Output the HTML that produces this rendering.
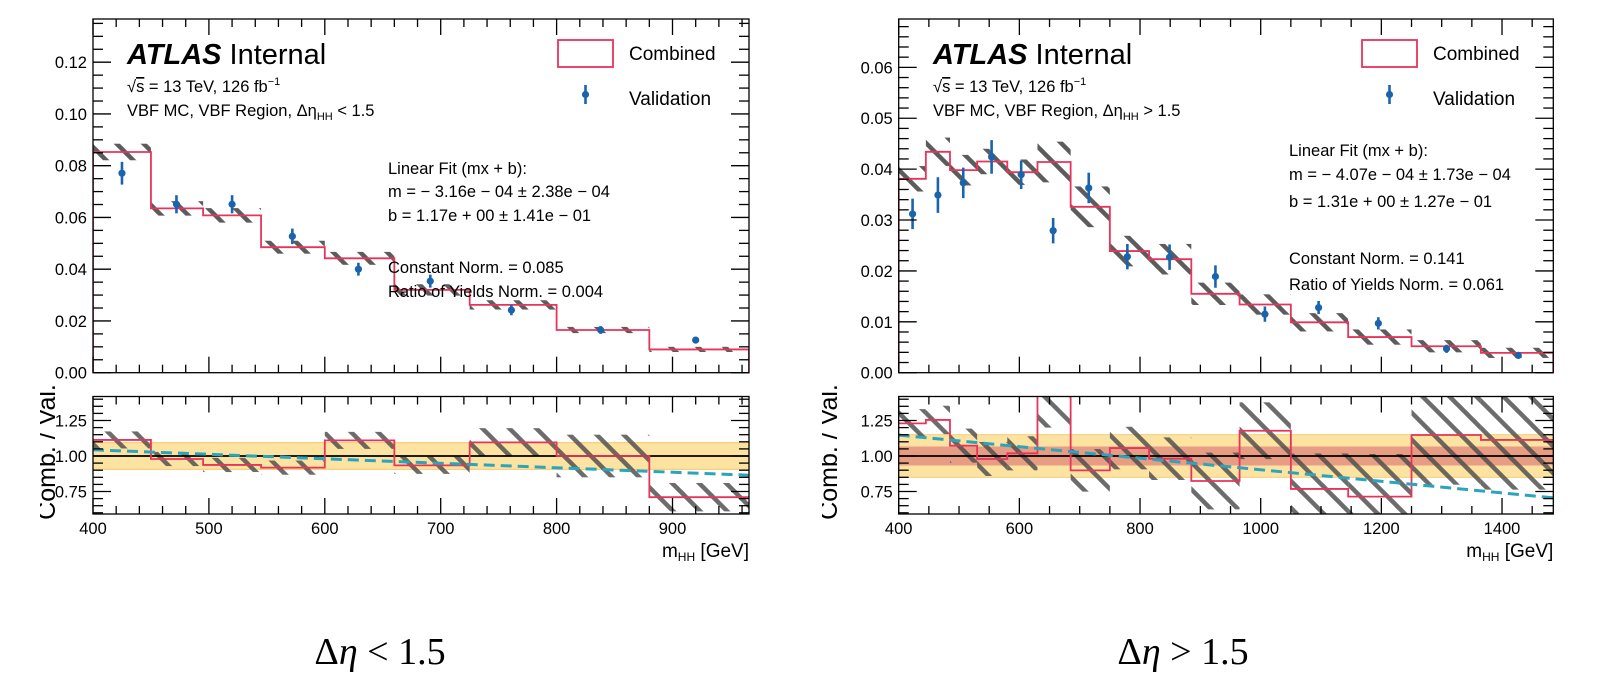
<!DOCTYPE html>
<html><head><meta charset="utf-8"><style>
html,body{margin:0;padding:0;background:#fff;}
svg{display:block;font-family:"Liberation Sans",sans-serif;}
</style></head><body>
<svg id="fig" width="1599" height="696" viewBox="0 0 1599 696" xmlns="http://www.w3.org/2000/svg">
<defs>
<pattern id="hatch" patternUnits="userSpaceOnUse" width="27" height="27">
<path d="M-2,-2 L29,29 M-29,-2 L2,29 M25,-2 L56,29" stroke="#4a4a4a" stroke-width="4.5" opacity="0.9"/>
</pattern>
</defs>
<g id="root"></g>
<text x="380" y="664" text-anchor="middle" font-family="'Liberation Serif',serif" font-size="38">Δ<tspan font-style="italic">η</tspan> &lt; 1.5</text>
<text x="1183" y="664" text-anchor="middle" font-family="'Liberation Serif',serif" font-size="38">Δ<tspan font-style="italic">η</tspan> &gt; 1.5</text>
</svg>
<script>
// ---- left chart data (Δη < 1.5) ----
const leftEdges = [400,450,495,545,600,660,725,800,880,966];
const leftCombined = [0.0853,0.0635,0.0608,0.0485,0.0442,0.0320,0.0262,0.0165,0.0090];
const leftCombErr = [0.0032,0.0028,0.0028,0.0025,0.0025,0.0022,0.0018,0.0012,0.0010];
const leftValX = [425,472,520,572,629,691,761,838,920];
const leftValY = [0.0771,0.0651,0.0651,0.0527,0.0400,0.0354,0.0242,0.0165,0.0126];
const leftValErr = [0.0044,0.0035,0.0035,0.0030,0.0025,0.0025,0.0020,0.0015,0.0012];
const leftRatio = [1.113,0.979,0.937,0.918,1.11,0.934,1.096,1.0,0.71];
const leftRatioErr = [0.06,0.05,0.05,0.05,0.06,0.06,0.1,0.15,0.1];
const leftFitM = -3.16e-4, leftFitB = 1.17;
const leftYTicks = [0,0.02,0.04,0.06,0.08,0.10,0.12];
const leftYTickLabels = ["0.00","0.02","0.04","0.06","0.08","0.10","0.12"];
const leftXTicks = [400,500,600,700,800,900];
// ---- right chart data (Δη > 1.5) ----
const rightEdges = [400,445,485,530,580,630,685,750,815,885,965,1050,1145,1250,1365,1485];
const rightCombined = [0.0381,0.0434,0.0398,0.0415,0.0394,0.0414,0.0326,0.0239,0.0223,0.0155,0.0134,0.0099,0.0070,0.0052,0.0039];
const rightCombErr = [0.0025,0.0028,0.003,0.0025,0.0025,0.004,0.004,0.003,0.003,0.0022,0.002,0.0018,0.0015,0.0012,0.001];
const rightValX = [423,465,507,554,603,656,715,779,849,925,1007,1096,1195,1308,1427];
const rightValY = [0.0312,0.0349,0.0373,0.0424,0.0389,0.0279,0.0363,0.0228,0.0227,0.0189,0.0115,0.0128,0.0097,0.0047,0.0034];
const rightValErr = [0.003,0.0035,0.003,0.0033,0.0028,0.0025,0.003,0.0025,0.0025,0.0022,0.0015,0.0013,0.0012,0.0008,0.0006];
const rightRatio = [1.23,1.254,1.073,0.979,1.019,1.5,0.899,1.056,0.981,0.824,1.178,0.768,0.714,1.148,1.113];
const rightRatioErr = [0.1,0.1,0.12,0.12,0.12,0.3,0.15,0.15,0.15,0.2,0.2,0.25,0.3,0.35,0.35];
const rightFitM = -4.07e-4, rightFitB = 1.31;
const rightYTicks = [0,0.01,0.02,0.03,0.04,0.05,0.06];
const rightYTickLabels = ["0.00","0.01","0.02","0.03","0.04","0.05","0.06"];
const rightXTicks = [400,600,800,1000,1200,1400];

const NS = "http://www.w3.org/2000/svg";
const root = document.getElementById('root');
function mk(tag, attrs, parent, text){
  const e = document.createElementNS(NS, tag);
  for (const k in attrs) e.setAttribute(k, attrs[k]);
  if (text !== undefined) e.textContent = text;
  (parent||root).appendChild(e);
  return e;
}

function drawPanel(c){
  const g = mk('g', {});
  
  
  const X = v => c.x0 + (v - c.xmin) / (c.xmax - c.xmin) * (c.x1 - c.x0);
  const Y = v => c.mBot - v / c.ymax * (c.mBot - c.mTop);
  const R = v => c.r1 - (v - 1) * c.rScale;
  const n = c.edges.length - 1;
  const cp = mk('clipPath', {id: c.id + 'mclip'}, g);
  mk('rect', {x:c.x0, y:c.mTop, width:c.x1-c.x0, height:c.mBot-c.mTop}, cp);
  const cr = mk('clipPath', {id: c.id + 'rclip'}, g);
  mk('rect', {x:c.x0, y:c.rTop, width:c.x1-c.x0, height:c.rBot-c.rTop}, cr);

  const mh = mk('g', {'clip-path':'url(#'+c.id+'mclip)'}, g);
  for (let i=0;i<n;i++){
    const r = mk('rect', {x:X(c.edges[i]), y:Y(c.comb[i]+c.combErr[i]), width:X(c.edges[i+1])-X(c.edges[i]), height:Y(c.comb[i]-c.combErr[i])-Y(c.comb[i]+c.combErr[i]), fill:'url(#hatch)'}, mh);
    
    
  }
  let d = '';
  for (let i=0;i<n;i++){
    d += (i===0 ? 'M'+X(c.edges[0])+','+c.mBot+' L' : ' L') + X(c.edges[i])+','+Y(c.comb[i]) + ' L'+X(c.edges[i+1])+','+Y(c.comb[i]);
  }
  d += ' L'+X(c.edges[n])+','+c.mBot;
  const st = mk('path', {d:d, fill:'none', stroke:'#e8345a', 'stroke-width':1.8}, mh);
  
  
  for (let i=0;i<c.valX.length;i++){
    const pg = mk('g', {}, mh);
    
    
    mk('line', {x1:X(c.valX[i]), x2:X(c.valX[i]), y1:Y(c.valY[i]-c.valErr[i]), y2:Y(c.valY[i]+c.valErr[i]), stroke:'#1a64ad', 'stroke-width':2.6}, pg);
    mk('circle', {cx:X(c.valX[i]), cy:Y(c.valY[i]), r:3.6, fill:'#1a64ad'}, pg);
  }

  const rg = mk('g', {'clip-path':'url(#'+c.id+'rclip)'}, g);
  const yb = mk('rect', {x:c.x0, y:R(1+c.yBand), width:c.x1-c.x0, height:2*c.yBand*c.rScale, fill:'#fde3a2'}, rg);
  
  
  mk('line', {x1:c.x0, x2:c.x1, y1:R(1+c.yBand), y2:R(1+c.yBand), stroke:'#f7cf7e', 'stroke-width':1.2}, rg);
  mk('line', {x1:c.x0, x2:c.x1, y1:R(1-c.yBand), y2:R(1-c.yBand), stroke:'#f7cf7e', 'stroke-width':1.2}, rg);
  if (c.rBand){
    const rb = mk('rect', {x:c.x0, y:R(1+c.rBand), width:c.x1-c.x0, height:2*c.rBand*c.rScale, fill:'#e79c84'}, rg);
    
    
  }
  for (let i=0;i<n;i++){
    const r = mk('rect', {x:X(c.edges[i]), y:R(c.ratio[i]+c.ratioErr[i]), width:X(c.edges[i+1])-X(c.edges[i]), height:2*c.ratioErr[i]*c.rScale, fill:'url(#hatch)', opacity:0.9}, rg);
    
    
  }
  mk('line', {x1:c.x0, x2:c.x1, y1:R(1), y2:R(1), stroke:'#000', 'stroke-width':1.8}, rg);
  let rd = '';
  for (let i=0;i<n;i++){
    rd += (i===0 ? 'M' : ' L') + X(c.edges[i])+','+R(c.ratio[i]) + ' L'+X(c.edges[i+1])+','+R(c.ratio[i]);
  }
  const rs = mk('path', {d:rd, fill:'none', stroke:'#e8345a', 'stroke-width':1.8}, rg);
  
  
  const fl = mk('line', {x1:c.x0, x2:c.x1, y1:R(c.fitM*c.xmin+c.fitB), y2:R(c.fitM*c.xmax+c.fitB), stroke:'#2ca4bb', 'stroke-width':3, 'stroke-dasharray':'11,6'}, rg);
  
  

  const ax = mk('g', {stroke:'#000', 'stroke-width':1.3, fill:'none'}, g);
  mk('rect', {x:c.x0, y:c.mTop, width:c.x1-c.x0, height:c.mBot-c.mTop}, ax);
  mk('rect', {x:c.x0, y:c.rTop, width:c.x1-c.x0, height:c.rBot-c.rTop}, ax);
  for (let v=c.xmin; v<=c.xmax+0.01; v+=c.xMinor){
    const isMaj = Math.abs((v - c.xmin) % c.xMajor) < 1e-6 || Math.abs(((v - c.xmin) % c.xMajor) - c.xMajor) < 1e-6;
    const L = isMaj ? 16 : 8;
    const xx = X(v);
    [[c.mTop, 1],[c.mBot, -1],[c.rTop, 1],[c.rBot, -1]].forEach(([yy,s]) => mk('line', {x1:xx,x2:xx,y1:yy,y2:yy+s*L}, ax));
  }
  for (let k=0; k*c.yMinor <= c.ymax+1e-9; k++){
    const v = k*c.yMinor;
    const isMaj = k % c.yMajEvery === 0;
    const L = isMaj ? 18 : 10;
    const yy = Y(v);
    mk('line', {x1:c.x0,x2:c.x0+L,y1:yy,y2:yy}, ax);
    mk('line', {x1:c.x1,x2:c.x1-L,y1:yy,y2:yy}, ax);
  }
  for (let v=0.6; v<=1.43; v+=0.05){
    const vr = Math.round(v*100)/100;
    const isMaj = Math.abs(vr*4 - Math.round(vr*4)) < 1e-6;
    const L = isMaj ? 18 : 10;
    const yy = R(vr);
    if (yy < c.rTop || yy > c.rBot) continue;
    mk('line', {x1:c.x0,x2:c.x0+L,y1:yy,y2:yy}, ax);
    mk('line', {x1:c.x1,x2:c.x1-L,y1:yy,y2:yy}, ax);
  }
  c.yTicks.forEach((v,i) => {
    const t = mk('text', {x:c.x0-6, y:Y(v)+6, 'text-anchor':'end', 'font-size':16.5}, g, c.yTickLabels[i]);
    
    
  });
  [0.75,1.00,1.25].forEach(v => {
    const t = mk('text', {x:c.x0-6, y:R(v)+6, 'text-anchor':'end', 'font-size':16.5}, g, v.toFixed(2));
    
    
  });
  c.xTicks.forEach(v => {
    const t = mk('text', {x:X(v), y:c.rBot+20, 'text-anchor':'middle', 'font-size':16.5}, g, String(v));
    
    
  });
  const xt = mk('text', {x:c.x1, y:c.rBot+43, 'text-anchor':'end', 'font-size':19}, g);
  
  
  xt.innerHTML = 'm<tspan font-size="12" dy="4">HH</tspan><tspan dy="-4"> [GeV]</tspan>';
  const yc = mk('clipPath', {id: c.id + 'yclip'}, g);
  mk('rect', {x:c.yClipX, y:384, width:40, height:140}, yc);
  const ytg = mk('g', {'clip-path':'url(#'+c.id+'yclip)'}, g);
  const yt = mk('text', {x:0, y:0, 'text-anchor':'middle', 'font-size':25, transform:'translate('+(c.yClipX+15)+',452) rotate(-90)'}, ytg, 'Comb. / Val.');
  
  

  const a = mk('text', {x:c.atlasX, y:64, 'font-size':29}, g);
  
  
  a.innerHTML = '<tspan font-weight="bold" font-style="italic">ATLAS</tspan><tspan dx="8">Internal</tspan>';
  const s1 = mk('text', {x:c.atlasX, y:92, 'font-size':16.5}, g);
  
  
  s1.innerHTML = '√<tspan text-decoration="overline">s</tspan> = 13 TeV, 126 fb<tspan font-size="11" dy="-7">−1</tspan>';
  const s2 = mk('text', {x:c.atlasX, y:116, 'font-size':16.5}, g);
  
  
  s2.innerHTML = 'VBF MC, VBF Region, Δη<tspan font-size="11" dy="4">HH</tspan><tspan dy="-4"> ' + c.cut + '</tspan>';
  const lg = mk('g', {}, g);
  
  
  mk('rect', {x:c.legX, y:40, width:55, height:27, fill:'none', stroke:'#e8345a', 'stroke-width':1.8}, lg);
  mk('text', {x:c.legX+71, y:60, 'font-size':19}, lg, 'Combined');
  mk('line', {x1:c.legX+27.5, x2:c.legX+27.5, y1:85, y2:104, stroke:'#1a64ad', 'stroke-width':2.6}, lg);
  mk('circle', {cx:c.legX+27.5, cy:94.5, r:3.6, fill:'#1a64ad'}, lg);
  mk('text', {x:c.legX+71, y:105, 'font-size':19}, lg, 'Validation');
  const ft = mk('g', {'font-size':16.5}, g);
  
  
  c.fitLines.forEach((l,i) => mk('text', {x:c.fitX, y:c.fitY[i]}, ft, l));
}

drawPanel({id:'left', x0:93, x1:749, xmin:400, xmax:966, mTop:19, mBot:372.7, ymax:0.1367,
  rTop:396.5, rBot:514, r1:456, rScale:142,
  edges:leftEdges, comb:leftCombined, combErr:leftCombErr, valX:leftValX, valY:leftValY, valErr:leftValErr,
  ratio:leftRatio, ratioErr:leftRatioErr, fitM:leftFitM, fitB:leftFitB, yBand:0.094, rBand:0,
  xMinor:20, xMajor:100, yMinor:0.005, yMajEvery:4, yTicks:leftYTicks, yTickLabels:leftYTickLabels, xTicks:leftXTicks,
  yClipX:40, atlasX:127, legX:558, cut:'< 1.5', fitX:388,
  fitY:[174,197,221,273,297],
  fitLines:['Linear Fit (mx + b):','m = − 3.16e − 04 ± 2.38e − 04','b = 1.17e + 00 ± 1.41e − 01','Constant Norm.  = 0.085','Ratio of Yields Norm.  = 0.004']});

drawPanel({id:'right', x0:898.7, x1:1553.3, xmin:400, xmax:1485, mTop:19, mBot:372.7, ymax:0.0695,
  rTop:396.5, rBot:514, r1:456, rScale:142,
  edges:rightEdges, comb:rightCombined, combErr:rightCombErr, valX:rightValX, valY:rightValY, valErr:rightValErr,
  ratio:rightRatio, ratioErr:rightRatioErr, fitM:rightFitM, fitB:rightFitB, yBand:0.15, rBand:0.067,
  xMinor:50, xMajor:200, yMinor:0.002, yMajEvery:5, yTicks:rightYTicks, yTickLabels:rightYTickLabels, xTicks:rightXTicks,
  yClipX:822, atlasX:933, legX:1362, cut:'> 1.5', fitX:1289,
  fitY:[156,180,207,264,290],
  fitLines:['Linear Fit (mx + b):','m = − 4.07e − 04 ± 1.73e − 04','b = 1.31e + 00 ± 1.27e − 01','Constant Norm.  = 0.141','Ratio of Yields Norm.  = 0.061']});
</script>
</body></html>
